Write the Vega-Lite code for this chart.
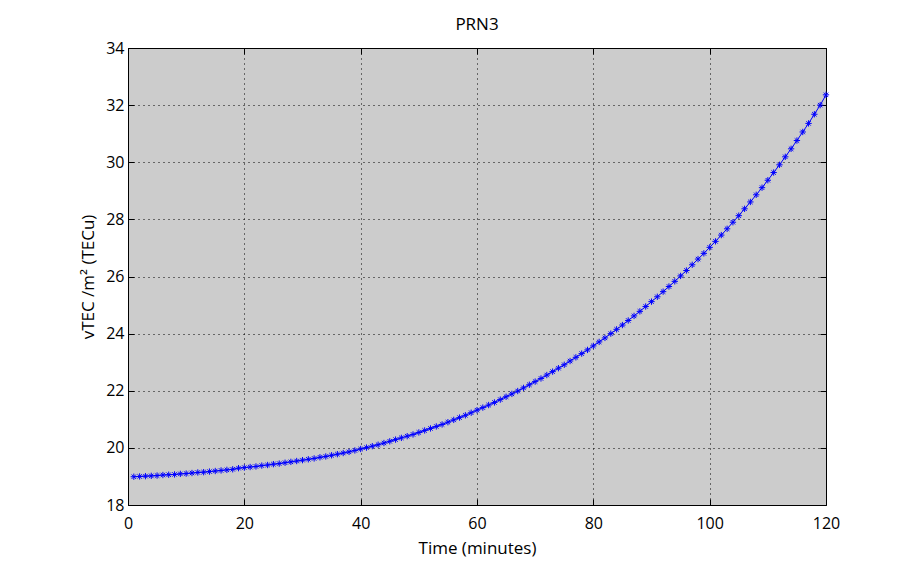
{
  "$schema": "https://vega.github.io/schema/vega-lite/v6.json",
  "width": 698,
  "height": 457,
  "autosize": "none",
  "padding": {"left": 128, "top": 48, "right": 74, "bottom": 58},
  "background": "white",
  "title": {"text": "PRN3", "font": "Open Sans", "fontSize": 17, "fontWeight": "normal", "color": "black", "anchor": "middle", "offset": 6},
  "config": {
    "view": {"fill": "#cccccc", "stroke": "black", "strokeWidth": 1},
    "axis": {
      "domain": false,
      "grid": true,
      "gridColor": "black",
      "gridDash": [1, 4],
      "gridOpacity": 1,
      "gridWidth": 1,
      "ticks": true,
      "tickColor": "black",
      "tickSize": -6,
      "tickWidth": 1,
      "labelFlush": false,
      "labelFont": "Open Sans",
      "labelFontSize": 16,
      "labelColor": "black",
      "titleFont": "Open Sans",
      "titleFontSize": 17,
      "titleFontWeight": "normal",
      "titleColor": "black"
    }
  },
  "data": {
    "values": [
      {"t": 1, "v": 18.99}, {"t": 2, "v": 19.0}, {"t": 3, "v": 19.01}, {"t": 4, "v": 19.02}, {"t": 5, "v": 19.03},
      {"t": 6, "v": 19.05}, {"t": 7, "v": 19.06}, {"t": 8, "v": 19.07}, {"t": 9, "v": 19.09}, {"t": 10, "v": 19.1},
      {"t": 11, "v": 19.12}, {"t": 12, "v": 19.14}, {"t": 13, "v": 19.15}, {"t": 14, "v": 19.17}, {"t": 15, "v": 19.19},
      {"t": 16, "v": 19.21}, {"t": 17, "v": 19.23}, {"t": 18, "v": 19.25}, {"t": 19, "v": 19.29}, {"t": 20, "v": 19.31},
      {"t": 21, "v": 19.33}, {"t": 22, "v": 19.35}, {"t": 23, "v": 19.38}, {"t": 24, "v": 19.4}, {"t": 25, "v": 19.43},
      {"t": 26, "v": 19.45}, {"t": 27, "v": 19.48}, {"t": 28, "v": 19.51}, {"t": 29, "v": 19.54}, {"t": 30, "v": 19.57},
      {"t": 31, "v": 19.6}, {"t": 32, "v": 19.63}, {"t": 33, "v": 19.67}, {"t": 34, "v": 19.7}, {"t": 35, "v": 19.74},
      {"t": 36, "v": 19.78}, {"t": 37, "v": 19.82}, {"t": 38, "v": 19.86}, {"t": 39, "v": 19.91}, {"t": 40, "v": 19.96},
      {"t": 41, "v": 20.01}, {"t": 42, "v": 20.06}, {"t": 43, "v": 20.11}, {"t": 44, "v": 20.17}, {"t": 45, "v": 20.23},
      {"t": 46, "v": 20.29}, {"t": 47, "v": 20.35}, {"t": 48, "v": 20.41}, {"t": 49, "v": 20.47}, {"t": 50, "v": 20.54},
      {"t": 51, "v": 20.61}, {"t": 52, "v": 20.68}, {"t": 53, "v": 20.75}, {"t": 54, "v": 20.82}, {"t": 55, "v": 20.9},
      {"t": 56, "v": 20.98}, {"t": 57, "v": 21.06}, {"t": 58, "v": 21.14}, {"t": 59, "v": 21.23}, {"t": 60, "v": 21.32},
      {"t": 61, "v": 21.41}, {"t": 62, "v": 21.5}, {"t": 63, "v": 21.59}, {"t": 64, "v": 21.69}, {"t": 65, "v": 21.79},
      {"t": 66, "v": 21.89}, {"t": 67, "v": 21.99}, {"t": 68, "v": 22.1}, {"t": 69, "v": 22.21}, {"t": 70, "v": 22.32},
      {"t": 71, "v": 22.43}, {"t": 72, "v": 22.55}, {"t": 73, "v": 22.67}, {"t": 74, "v": 22.79}, {"t": 75, "v": 22.91},
      {"t": 76, "v": 23.04}, {"t": 77, "v": 23.17}, {"t": 78, "v": 23.3}, {"t": 79, "v": 23.43}, {"t": 80, "v": 23.57},
      {"t": 81, "v": 23.71}, {"t": 82, "v": 23.85}, {"t": 83, "v": 24.0}, {"t": 84, "v": 24.15}, {"t": 85, "v": 24.3},
      {"t": 86, "v": 24.46}, {"t": 87, "v": 24.62}, {"t": 88, "v": 24.78}, {"t": 89, "v": 24.95}, {"t": 90, "v": 25.12},
      {"t": 91, "v": 25.29}, {"t": 92, "v": 25.47}, {"t": 93, "v": 25.65}, {"t": 94, "v": 25.83}, {"t": 95, "v": 26.02},
      {"t": 96, "v": 26.21}, {"t": 97, "v": 26.41}, {"t": 98, "v": 26.61}, {"t": 99, "v": 26.81}, {"t": 100, "v": 27.02},
      {"t": 101, "v": 27.23}, {"t": 102, "v": 27.45}, {"t": 103, "v": 27.67}, {"t": 104, "v": 27.9}, {"t": 105, "v": 28.13},
      {"t": 106, "v": 28.37}, {"t": 107, "v": 28.61}, {"t": 108, "v": 28.86}, {"t": 109, "v": 29.11}, {"t": 110, "v": 29.37},
      {"t": 111, "v": 29.64}, {"t": 112, "v": 29.91}, {"t": 113, "v": 30.19}, {"t": 114, "v": 30.47}, {"t": 115, "v": 30.76},
      {"t": 116, "v": 31.06}, {"t": 117, "v": 31.36}, {"t": 118, "v": 31.68}, {"t": 119, "v": 32.0}, {"t": 120, "v": 32.36}
    ]
  },
  "layer": [
    {
      "mark": {"type": "line", "color": "#0000ff", "strokeWidth": 1},
      "encoding": {
        "x": {"field": "t", "type": "quantitative", "scale": {"domain": [0, 120], "nice": false},
              "axis": {"orient": "bottom", "values": [0, 20, 40, 60, 80, 100, 120], "title": "Time (minutes)", "labelPadding": 16, "titlePadding": 9}},
        "y": {"field": "v", "type": "quantitative", "scale": {"domain": [18, 34], "nice": false, "zero": false},
              "axis": {"orient": "left", "values": [18, 20, 22, 24, 26, 28, 30, 32, 34], "title": "vTEC /m²  (TECu)", "labelPadding": 10, "titlePadding": 8}}
      }
    },
    {
      "mark": {"type": "point", "shape": "M-1,0L1,0M0,-1L0,1M-0.7,-0.7L0.7,0.7M-0.7,0.7L0.7,-0.7", "filled": false, "color": "#0000ff", "size": 40, "strokeWidth": 1, "opacity": 1},
      "encoding": {
        "x": {"field": "t", "type": "quantitative", "scale": {"domain": [0, 120], "nice": false},
              "axis": {"orient": "top", "values": [0, 20, 40, 60, 80, 100, 120], "labels": false, "grid": false, "title": null}},
        "y": {"field": "v", "type": "quantitative", "scale": {"domain": [18, 34], "nice": false, "zero": false},
              "axis": {"orient": "right", "values": [18, 20, 22, 24, 26, 28, 30, 32, 34], "labels": false, "grid": false, "title": null}}
      }
    }
  ],
  "resolve": {"axis": {"x": "independent", "y": "independent"}}
}
